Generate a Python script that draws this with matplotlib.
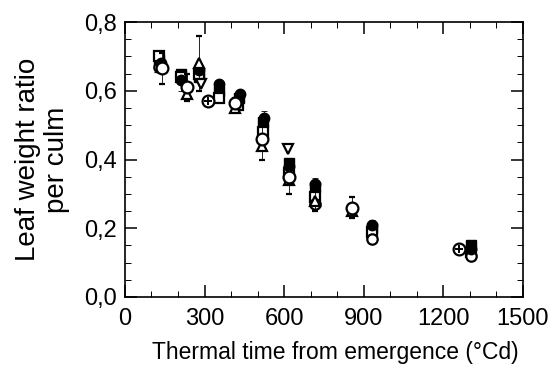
import matplotlib.pyplot as plt
from matplotlib.ticker import MultipleLocator, FuncFormatter

plt.rcParams['font.family'] = ['Liberation Sans', 'DejaVu Sans']

# thermal time (°Cd) and leaf weight ratio for each treatment
sq_open_x = [130, 210, 280, 355, 425, 520, 620, 716, 931, 1305]
sq_open_y = [0.70, 0.64, 0.65, 0.58, 0.56, 0.48, 0.36, 0.29, 0.19, 0.13]

sq_fill_x = [130, 210, 280, 355, 430, 520, 620, 716, 931, 1305]
sq_fill_y = [0.69, 0.65, 0.64, 0.60, 0.58, 0.51, 0.39, 0.32, 0.20, 0.15]

circ_fill_x = [135, 210, 280, 355, 435, 525, 620, 716, 931, 1305]
circ_fill_y = [0.68, 0.63, 0.66, 0.62, 0.59, 0.52, 0.38, 0.33, 0.21, 0.14]
circ_fill_err = [0.0, 0.03, 0.0, 0.0, 0.0, 0.02, 0.0, 0.015, 0.015, 0.0]

circ_dot_x = [140, 235, 415, 515, 620, 855]
circ_dot_y = [0.665, 0.61, 0.565, 0.46, 0.35, 0.26]
circ_dot_err = [0.045, 0.04, 0.015, 0.06, 0.05, 0.03]

tri_up_x = [135, 235, 280, 415, 515, 620, 716, 855]
tri_up_y = [0.67, 0.59, 0.68, 0.55, 0.44, 0.34, 0.28, 0.25]
tri_up_err = [0.0, 0.0, 0.08, 0.0, 0.0, 0.0, 0.03, 0.0]

tri_down_x = [285, 615]
tri_down_y = [0.62, 0.43]

circ_cross_x = [313, 1259]
circ_cross_y = [0.57, 0.14]

circ_open_x = [130, 716, 931, 1305]
circ_open_y = [0.67, 0.27, 0.17, 0.12]

fig = plt.figure(figsize=(5.48, 3.74), dpi=100)
ax = fig.add_axes([0.228, 0.206, 0.726, 0.735])

ms = 7.5
eb = dict(capsize=2, elinewidth=0.6, capthick=0.6, ecolor='black')
ax.errorbar(circ_fill_x, circ_fill_y, yerr=circ_fill_err, fmt='o', color='black', ms=ms, **eb)
ax.plot(sq_fill_x, sq_fill_y, 's', color='black', ms=ms - 1)
ax.plot(sq_open_x, sq_open_y, 's', mfc='white', mec='black', mew=1.6, ms=ms - 1)
ax.plot(circ_open_x, circ_open_y, 'o', mfc='white', mec='black', mew=1.6, ms=ms)
ax.errorbar(tri_up_x, tri_up_y, yerr=tri_up_err, fmt='^', mfc='white', mec='black',
            mew=1.6, ms=ms, **eb)
ax.plot(tri_down_x, tri_down_y, 'v', mfc='white', mec='black', mew=1.6, ms=ms)
ax.errorbar(circ_dot_x, circ_dot_y, yerr=circ_dot_err, fmt='o', mfc='white', mec='black',
            mew=1.6, ms=ms + 1, **eb)
ax.plot(circ_dot_x, circ_dot_y, '.', color='black', ms=4)
ax.plot(circ_cross_x, circ_cross_y, 'o', mfc='white', mec='black', mew=1.6, ms=ms + 1)
ax.plot(circ_cross_x, circ_cross_y, '+', color='black', mew=1.4, ms=ms - 1.5)

ax.set_xlim(0, 1500)
ax.set_ylim(0, 0.8)
ax.xaxis.set_major_locator(MultipleLocator(300))
ax.xaxis.set_minor_locator(MultipleLocator(100))
ax.yaxis.set_major_locator(MultipleLocator(0.2))
ax.yaxis.set_minor_locator(MultipleLocator(0.05))
ax.yaxis.set_major_formatter(FuncFormatter(lambda v, p: f"{v:.1f}".replace('.', ',')))
ax.tick_params(which='both', direction='in', top=True, right=True, labelsize=17)
ax.tick_params(which='major', length=8.5, width=1.1)
ax.tick_params(which='minor', length=4, width=0.7)
ax.tick_params(axis='x', pad=8)
ax.tick_params(axis='y', pad=6)
for s in ax.spines.values():
    s.set_linewidth(1.2)

ax.set_xlabel('Thermal time from emergence (°Cd)', fontsize=16.5, labelpad=8)
ax.xaxis.label.set_x(0.53)
ax.set_ylabel('Leaf weight ratio\nper culm', fontsize=20, labelpad=10, linespacing=1.15)

fig.savefig('out.png', dpi=100)
